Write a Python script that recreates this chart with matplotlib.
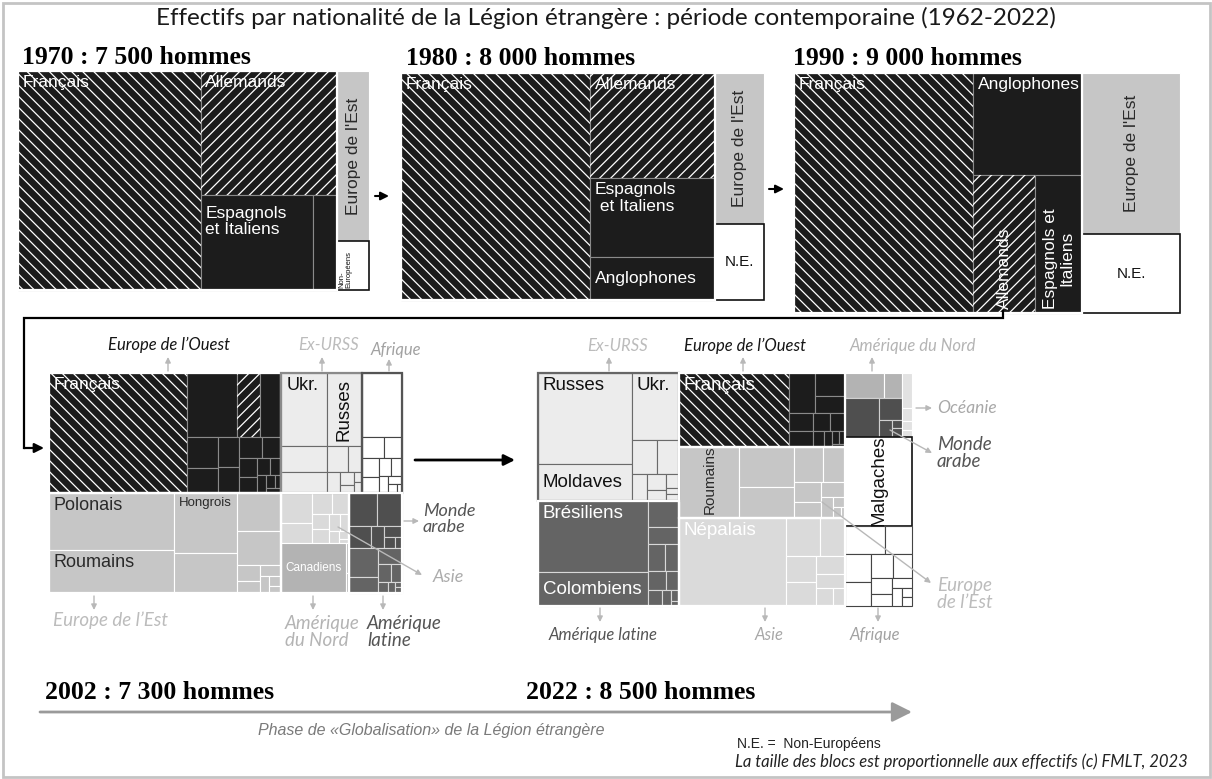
import matplotlib
matplotlib.use("Agg")
import matplotlib.pyplot as plt
from matplotlib.patches import Rectangle

plt.rcParams["hatch.linewidth"] = 0.9

SANS = ["Liberation Sans", "DejaVu Sans"]
HUM = ["Lato", "DejaVu Sans"]
SERIF = ["Liberation Serif", "DejaVu Serif"]

W, H = 1212, 779

# ---------- data : part de chaque bloc (% des effectifs de l'annee) ----------
years = ["1970", "1980", "1990", "2002", "2022"]
effectifs = ["7 500", "8 000", "9 000", "7 300", "8 500"]

# 1970
labels_1970 = ["Français", "Allemands", "Espagnols\net Italiens", "", "Europe de l'Est", "Non-\nEuropéens"]
values_1970 = [52, 22, 14, 3, 7, 2]
styles_1970 = ["fr", "de", "ouest", "ouest", "est", "ne"]
tree_1970 = ("h", [("h", [0, ("v", [1, ("h", [2, 3])])], "white"), ("v", [4, 5])])

# 1980
labels_1980 = ["Français", "Allemands", "Espagnols\n et Italiens", "Anglophones", "Europe de l'Est", "N.E."]
values_1980 = [52, 16, 12, 6.5, 9, 4.5]
styles_1980 = ["fr", "de", "ouest", "ouest", "est", "ne"]
tree_1980 = ("h", [("h", [0, ("v", [1, 2, 3])], "white"), ("v", [4, 5])])

# 1990
labels_1990 = ["Français", "Anglophones", "Allemands", "Espagnols et\nItaliens", "Europe de l'Est", "N.E."]
values_1990 = [46.5, 12, 9.2, 7, 17, 8.3]
styles_1990 = ["fr", "ouest", "de", "ouest", "est", "ne"]
tree_1990 = ("h", [("h", [0, ("v", [1, ("h", [2, 3])])], "white"), ("v", [4, 5])])

# 2002 (les listes = petites nationalites regroupees dans un meme bloc)
labels_2002 = ["Français", "", "", "", "",
               "Ukr.", "Russes", "", "", "",
               "", "",
               "Polonais", "Roumains", "Hongrois", "", "", "", "",
               "", "Canadiens", "",
               "", ""]
values_2002 = [21.3, 4.1, 1.9, 1.8, [1.2, 1.0, 0.8, 0.7, 0.6, 0.5, 0.45, 0.35, 0.3, 0.25, 0.2, 0.15, 0.1, 0.1],
               4.3, 3.3, 1.5, 1.2, [0.7, 0.45, 0.35, 0.25, 0.15, 0.1, 0.1],
               3.3, [0.6, 0.5, 0.4, 0.35, 0.3, 0.25, 0.2, 0.15, 0.1, 0.05],
               9.2, 6.9, 4.9, 3.2, 2.2, 1.9, [0.5, 0.35, 0.3, 0.2, 0.15, 0.1],
               [1.2, 0.8, 0.55, 0.45, 0.35, 0.3, 0.25, 0.2, 0.15, 0.1, 0.05], 4.2, [0.12, 0.08],
               [1.2, 1.1, 0.6, 0.35, 0.25, 0.15, 0.1], [1.1, 0.6, 0.5, 0.3, 0.25, 0.15, 0.1, 0.05, 0.05]]
styles_2002 = ["fr", "ouest", "de", "ouest", "ouest",
               "exurss", "exurss", "exurss", "exurss", "exurss",
               "afrique", "afrique",
               "est", "est", "est", "est", "est", "est", "est",
               "asie", "amnord", "amnord",
               "marabe", "amlat"]
tree_2002 = ("v", [
    ("h", [("h", [0, ("v", [("h", [1, 2, 3]), 4])], "white"),
           ("v", [("h", [5, 6]), ("h", [("v", [7, 8]), 9])], "#8a8a8a"),
           ("v", [10, 11], "#555555")]),
    ("h", [("h", [("v", [12, 13]), ("v", [14, 15]), ("v", [16, 17, 18])], "white"),
           ("v", [19, ("h", [20, 21])], "white"),
           ("v", [22, 23], "white")]),
])

# 2022
labels_2022 = ["Russes", "Moldaves", "Ukr.", "", "", "",
               "Brésiliens", "Colombiens", "",
               "Français", "", "",
               "Roumains", "", "", "",
               "Népalais", "",
               "", "", "", "Malgaches", ""]
values_2022 = [9.8, 4.0, 3.6, 1.0, 0.86, [0.45, 0.35, 0.25, 0.2, 0.1, 0.1],
               9.0, 4.3, [0.9, 0.6, 0.5, 0.45, 0.4, 0.3, 0.25, 0.15, 0.1, 0.05],
               9.3, [1.2, 0.8, 0.6], [0.5, 0.45, 0.35, 0.3, 0.2, 0.15, 0.1, 0.1, 0.05],
               4.9, 2.5, 1.9, [1.2, 0.9, 0.6, 0.5, 0.4, 0.3, 0.15, 0.1, 0.05],
               10.8, [1.5, 1.1, 0.9, 0.8, 0.6, 0.5, 0.35, 0.25],
               [1.1, 0.5], [1.5, 0.6, 0.25, 0.1, 0.1], [0.4, 0.15, 0.1, 0.08], 6.8,
               [1.3, 0.9, 0.8, 0.7, 0.6, 0.5, 0.4, 0.3, 0.25, 0.2, 0.1, 0.1]]
styles_2022 = ["exurss", "exurss", "exurss", "exurss", "exurss", "exurss",
               "amlat", "amlat", "amlat",
               "fr", "ouest", "ouest",
               "est", "est", "est", "est",
               "asie", "asie",
               "amnord", "marabe", "oceanie", "ne", "afrique"]
tree_2022 = ("h", [
    ("v", [("h", [("v", [0, 1]), ("v", [2, ("h", [3, 4]), 5])], "#666666"),
           ("h", [("v", [6, 7]), 8], "white")]),
    ("v", [("h", [9, ("v", [10, 11])], "white"), ("h", [12, ("v", [13, 14]), 15], "white"),
           ("h", [16, 17], "white")]),
    ("v", [("h", [("v", [18, 19]), 20]), 21, 22]),
])

# ---------- styles ----------
# face, edge, hatch, text colour
STY = {
    "fr": ("#1c1c1c", "#8a8a8a", "\\\\\\", "white"),
    "de": ("#1c1c1c", "#8a8a8a", "///", "white"),
    "ouest": ("#1c1c1c", "#8a8a8a", None, "white"),
    "est": ("#c6c6c6", "white", None, "#2a2a2a"),
    "ne": ("white", "#111111", None, "#111111"),
    "exurss": ("#ececec", "#6a6a6a", None, "#111111"),
    "afrique": ("white", "#444444", None, "#111111"),
    "asie": ("#dadada", "white", None, "white"),
    "amnord": ("#b3b3b3", "white", None, "white"),
    "marabe": ("#4f4f4f", "#d0d0d0", None, "white"),
    "amlat": ("#646464", "#d8d8d8", None, "white"),
    "oceanie": ("#e2e2e2", "white", None, "#111111"),
}

# label placement: mode, size, rotation
fmt_1970 = [("tl", 12.5, 0), ("tl", 12.5, 0), ("tl2", 12.5, 0), None, ("c", 12.5, 90), ("bl", 5.5, 90)]
fmt_1980 = [("tl", 12.5, 0), ("tl", 12.5, 0), ("tl", 12.5, 0), ("cl", 12.5, 0), ("c", 12.5, 90), ("c", 11, 0)]
fmt_1990 = [("tl", 12.5, 0), ("tl", 12.5, 0), ("bc", 12.5, 90), ("bc", 12.5, 90), ("c", 12.5, 90), ("c", 11, 0)]
fmt_2002 = {0: ("tl", 12.5, 0), 5: ("tl", 13, 0), 6: ("tc", 13.5, 90), 12: ("tl", 13, 0),
            13: ("tl", 13, 0), 14: ("tl", 9.5, 0), 20: ("c", 8.5, 0)}
fmt_2022 = {0: ("tl", 13.5, 0), 1: ("cl", 13.5, 0), 2: ("tl", 13.5, 0), 6: ("tl", 13.5, 0),
            7: ("cl", 13.5, 0), 9: ("tl", 13.5, 0), 12: ("bc", 11, 90), 16: ("tl", 13.5, 0),
            21: ("c", 13.5, 90)}


def total(node, vals):
    if isinstance(node, int):
        v = vals[node]
        return sum(v) if isinstance(v, list) else v
    return sum(total(k, vals) for k in node[1])


def slice_layout(node, vals, x, y, w, h, leaves, regions):
    if isinstance(node, int):
        leaves.append((node, (x, y, w, h)))
        return
    if len(node) > 2:
        regions.append(((x, y, w, h), node[2]))
    s = total(node, vals)
    for k in node[1]:
        f = total(k, vals) / s
        if node[0] == "h":
            slice_layout(k, vals, x, y, w * f, h, leaves, regions)
            x += w * f
        else:
            slice_layout(k, vals, x, y, w, h * f, leaves, regions)
            y += h * f


def worst(row, side):
    s = sum(row)
    return max(max(side * side * r / (s * s), s * s / (side * side * r)) for r in row)


def squarify(vals, x, y, w, h):
    s = sum(vals)
    areas = [v * w * h / s for v in vals]
    out = []
    while areas:
        side = min(w, h)
        row = [areas[0]]
        i = 1
        while i < len(areas) and worst(row + [areas[i]], side) <= worst(row, side):
            row.append(areas[i])
            i += 1
        rs = sum(row)
        if w >= h:
            cw = rs / h
            yy = y
            for a in row:
                out.append((x, yy, cw, a / cw))
                yy += a / cw
            x += cw
            w -= cw
        else:
            ch = rs / w
            xx = x
            for a in row:
                out.append((xx, y, a / ch, ch))
                xx += a / ch
            y += ch
            h -= ch
        areas = areas[i:]
    return out


def put_label(ax, text, r, spec, color):
    mode, size, rot = spec
    x, y, w, h = r
    if mode == "tl":
        xy, off, ha, va = (x, y), (3.5, -3), "left", "top"
    elif mode == "tl2":
        xy, off, ha, va = (x, y), (3.5, -8), "left", "top"
    elif mode == "cl":
        xy, off, ha, va = (x, y + h / 2), (3.5, 0), "left", "center"
    elif mode == "c":
        xy, off, ha, va = (x + w / 2, y + h / 2), (0, 0), "center", "center"
    elif mode == "bc":
        xy, off, ha, va = (x + w / 2, y + h), (0, 3), "center", "bottom"
    elif mode == "tc":
        xy, off, ha, va = (x + w / 2, y), (0, -4), "center", "top"
    else:
        xy, off, ha, va = (x, y + h), (0.5, 1.5), "left", "bottom"
    ax.annotate(text, xy, xytext=off, textcoords="offset points", ha=ha, va=va,
                rotation=rot, fontsize=size, color=color, family=SANS, linespacing=1.1)


fig = plt.figure(figsize=(W / 100, H / 100), dpi=100)
fig.patch.set_facecolor("white")


def draw_panel(box, labels, values, styles, fmts, tree):
    x0, y0, x1, y1 = box
    pw, ph = x1 - x0, y1 - y0
    ax = fig.add_axes([x0 / W, 1 - y1 / H, pw / W, ph / H])
    ax.set_xlim(0, pw)
    ax.set_ylim(ph, 0)
    ax.axis("off")
    leaves, regions = [], []
    slice_layout(tree, values, 0, 0, pw, ph, leaves, regions)
    for i, r in leaves:
        fc, ec, hatch, tc = STY[styles[i]]
        v = values[i]
        rects = squarify(sorted(v, reverse=True), *r) if isinstance(v, list) else [r]
        lw = 1.2 if styles[i] == "ne" else 0.8
        for (x, y, w, h) in rects:
            ax.add_patch(Rectangle((x, y), w, h, facecolor=fc, edgecolor=ec, lw=lw, clip_on=False))
            if hatch:
                ax.add_patch(Rectangle((x, y), w, h, fill=False, hatch=hatch,
                                       edgecolor="white", lw=0, clip_on=False))
    for (x, y, w, h), col in regions:
        ax.add_patch(Rectangle((x, y), w, h, fill=False, edgecolor=col, lw=1.6, clip_on=False))
    for i, r in leaves:
        if labels[i]:
            spec = fmts[i] if isinstance(fmts, list) else fmts.get(i)
            if spec:
                put_label(ax, labels[i], r, spec, STY[styles[i]][3])
    return ax


draw_panel((18, 71, 369, 290), labels_1970, values_1970, styles_1970, fmt_1970, tree_1970)
draw_panel((401, 73, 764, 300), labels_1980, values_1980, styles_1980, fmt_1980, tree_1980)
draw_panel((794, 73, 1180, 313), labels_1990, values_1990, styles_1990, fmt_1990, tree_1990)
draw_panel((49, 373, 402, 593), labels_2002, values_2002, styles_2002, fmt_2002, tree_2002)
draw_panel((538, 373, 912, 606), labels_2022, values_2022, styles_2022, fmt_2022, tree_2022)

# ---------- overlay : titres, fleches, legendes ----------
ov = fig.add_axes([0, 0, 1, 1])
ov.set_xlim(0, W)
ov.set_ylim(H, 0)
ov.axis("off")

ov.add_patch(Rectangle((2.5, 2.5), W - 5, H - 5, fill=False, edgecolor="#c4c4c4", lw=2))
ov.text(606, 18, "Effectifs par nationalité de la Légion étrangère : période contemporaine (1962-2022)",
        ha="center", va="center", fontsize=17.5, family=HUM, color="#1a1a1a")

head_pos = [(22, 64), (406, 65), (793, 65), (45, 699), (526, 699)]
for (hx, hy), yr, ef in zip(head_pos, years, effectifs):
    ov.text(hx, hy, f"{yr} : {ef} hommes", ha="left", va="baseline", fontsize=18.5,
            family=SERIF, fontweight="bold", color="black")


def arrow(x0, y0, x1, y1, color="black", lw=1.5, ms=12):
    ov.annotate("", xy=(x1, y1), xytext=(x0, y0),
                arrowprops=dict(arrowstyle="-|>", color=color, lw=lw, mutation_scale=ms,
                                shrinkA=0, shrinkB=0))


arrow(375, 196, 389, 196)
arrow(769, 189, 784, 189)
ov.plot([1003, 1003, 24, 24], [311, 318, 318, 448], color="black", lw=1.6, solid_joinstyle="miter")
arrow(24, 448, 44, 448, lw=1.6, ms=14)
arrow(415, 460, 515, 460, lw=2, ms=16)
arrow(40, 712, 912, 712, color="#9a9a9a", lw=2, ms=30)

ov.text(258, 730, "Phase de «Globalisation» de la Légion étrangère", ha="left", va="center",
        fontsize=11.5, family=SANS, style="italic", color="#7a7a7a")
ov.text(737, 744, "N.E. =  Non-Européens", ha="left", va="center", fontsize=10, family=SANS, color="#222222")
ov.text(735, 762, "La taille des blocs est proportionnelle aux effectifs (c) FMLT, 2023", ha="left",
        va="center", fontsize=12, family=HUM, style="italic", color="#222222")

# regional group names: text, x, y, colour, size
ann = [
    ("Europe de l’Ouest", 108, 345, "#151515", 12), ("Ex-URSS", 298, 345, "#bcbcbc", 12),
    ("Afrique", 371, 350, "#a2a2a2", 12), ("Europe de l’Est", 53, 620, "#bcbcbc", 13.5),
    ("Amérique\ndu Nord", 285, 632, "#b4b4b4", 13.5), ("Amérique\nlatine", 367, 632, "#555555", 13.5),
    ("Monde\narabe", 423, 519, "#555555", 13), ("Asie", 433, 577, "#acacac", 13),
    ("Ex-URSS", 587, 346, "#bcbcbc", 12), ("Europe de l’Ouest", 684, 346, "#151515", 12),
    ("Amérique du Nord", 850, 346, "#b4b4b4", 12), ("Océanie", 937, 408, "#a8a8a8", 12.5),
    ("Monde\narabe", 937, 453, "#555555", 13.5), ("Europe\nde l’Est", 937, 594, "#bcbcbc", 13.5),
    ("Amérique latine", 549, 635, "#555555", 12), ("Asie", 755, 635, "#a8a8a8", 12),
    ("Afrique", 850, 635, "#a2a2a2", 12),
]
for t, ax_, ay_, c, s in ann:
    ov.text(ax_, ay_, t, ha="left", va="center", fontsize=s, family=HUM, style="italic",
            color=c, linespacing=1.0)

g = "#b8b8b8"
for a in [(168, 371, 168, 357), (322, 371, 322, 357), (389, 371, 389, 359),
          (94, 596, 94, 610), (313, 596, 313, 610), (383, 596, 383, 610),
          (404, 521, 419, 521), (338, 527, 422, 575),
          (609, 371, 609, 357), (743, 371, 743, 357), (872, 371, 872, 357),
          (916, 408, 932, 408), (890, 430, 932, 453), (822, 502, 931, 583),
          (600, 608, 600, 622), (765, 608, 765, 622), (878, 608, 878, 622)]:
    arrow(*a, color=g, lw=1, ms=8)

fig.savefig("out.png", dpi=100, facecolor="white")
